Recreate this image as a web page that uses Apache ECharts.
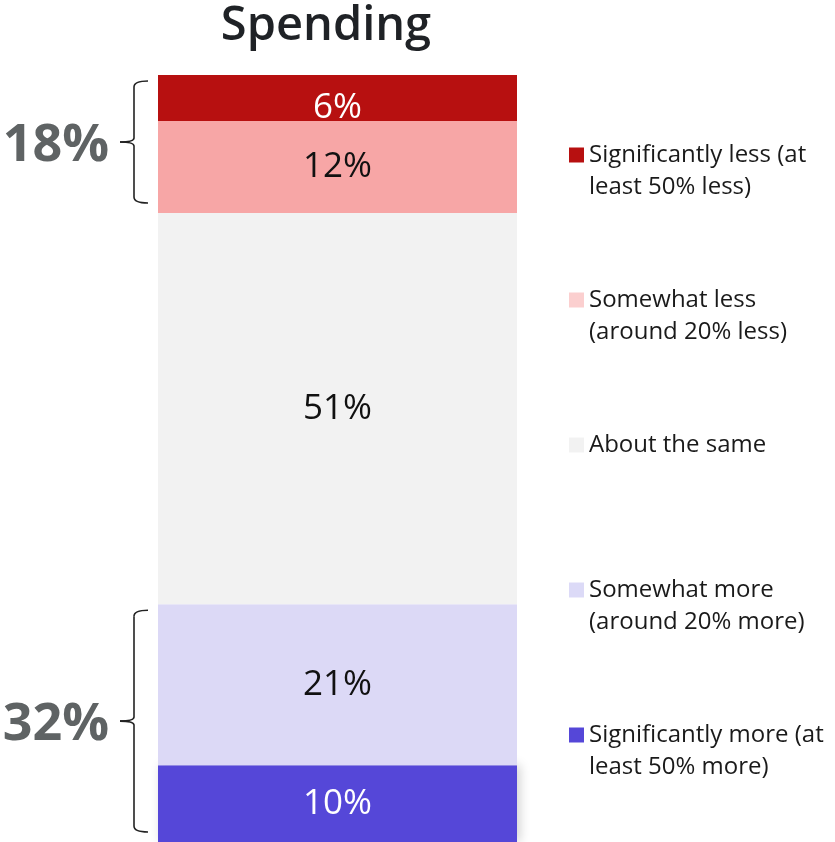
<!DOCTYPE html>
<html>
<head>
<meta charset="utf-8">
<script src="https://cdn.jsdelivr.net/npm/echarts@6/dist/echarts.min.js"></script>
<style>
  html, body { margin: 0; padding: 0; background: #fff; }
  #chart { width: 835px; height: 842px; }
</style>
</head>
<body>
<div id="chart"></div>
<script>
// Answer groups, listed from the bottom of the stack to the top
const categories = ['Spending'];
const seriesNames = [
  'Significantly more (at\nleast 50% more)',
  'Somewhat more\n(around 20% more)',
  'About the same',
  'Somewhat less\n(around 20% less)',
  'Significantly less (at\nleast 50% less)'
];
const seriesValues = [10, 21, 51, 12, 6];
const barColors = ['#5547D8', '#DCD9F6', '#F2F2F2', '#F7A6A6', '#B71010'];
const legendColors = ['#5547D8', '#DCDAF7', '#F2F2F2', '#FBCFCF', '#B71010'];
const labelColors = ['#ffffff', '#111111', '#111111', '#111111', '#ffffff'];

// Bracketed totals: [first series index, last series index, text]
const groupTotals = [
  [3, 4, '18%'],
  [0, 1, '32%']
];

const FONT = '"Open Sans", "Noto Sans", sans-serif';
const chart = echarts.init(document.getElementById('chart'), null, { renderer: 'canvas' });

const series = seriesNames.map((name, i) => ({
  name: name,
  type: 'bar',
  stack: 'total',
  barWidth: 359,
  data: [{
    value: seriesValues[i],
    label: i === 4 ? { offset: [0, 10] } : {}
  }],
  itemStyle: Object.assign(
    { color: barColors[i] },
    i === 0 ? { shadowBlur: 10, shadowColor: 'rgba(0,0,0,0.18)', shadowOffsetX: 3 } : {}
  ),
  label: {
    show: true,
    position: 'inside',
    formatter: '{c}%',
    color: labelColors[i],
    fontFamily: FONT,
    fontSize: 35,
    textBorderWidth: 0
  },
  emphasis: { disabled: true }
}));

// Legend reads top-down: reverse of the stack order
const legendOrder = [4, 3, 2, 1, 0];
const legendData = legendOrder.map(i => ({
  name: seriesNames[i],
  itemStyle: { color: legendColors[i] }
}));

chart.setOption({
  animation: false,
  title: {
    text: categories[0],
    left: 326,
    top: 3,
    padding: 0,
    textAlign: 'center',
    textStyle: { fontFamily: FONT, fontSize: 47, fontWeight: 600, color: '#1f2226' }
  },
  grid: { left: 158, right: 318, top: 75, bottom: 0, containLabel: false },
  xAxis: { type: 'category', data: categories, show: false },
  yAxis: { type: 'value', min: 0, max: 100, show: false },
  legend: {
    orient: 'vertical',
    left: 569,
    top: 107,
    padding: 0,
    itemGap: 49,
    itemWidth: 15,
    itemHeight: 15,
    icon: 'rect',
    selectedMode: false,
    data: legendData,
    // a blank leading line keeps each swatch level with the first text line
    formatter: name => '\n' + name + (name.indexOf('\n') >= 0 ? '' : '\n'),
    textStyle: { fontFamily: FONT, fontSize: 24, color: '#1a1a1a', lineHeight: 32 }
  },
  series: series
});

// Curly brackets and group totals, placed through the value axis
function yAt(v) {
  return chart.convertToPixel({ gridIndex: 0 }, [0, v])[1];
}
const cumulative = [];
seriesValues.reduce((acc, v, i) => { cumulative[i] = [acc, acc + v]; return acc + v; }, 0);

const graphics = [];
const braceStyle = { fill: null, stroke: '#222', lineWidth: 1.6 };
groupTotals.forEach(([lo, hi, text]) => {
  const yTop = yAt(cumulative[hi][1]) + 6;
  const yBot = yAt(cumulative[lo][0]) - 10;
  const mid = (yTop + yBot) / 2;
  const xl = 134, xr = 148, xt = 120, r = 6;
  graphics.push(
    { type: 'bezierCurve', shape: { x1: xr, y1: yTop, cpx1: xl, cpy1: yTop, x2: xl, y2: yTop + r }, style: braceStyle },
    { type: 'line', shape: { x1: xl, y1: yTop + r, x2: xl, y2: mid - 4 }, style: braceStyle },
    { type: 'bezierCurve', shape: { x1: xl, y1: mid - 4, cpx1: xl, cpy1: mid, x2: xt, y2: mid }, style: braceStyle },
    { type: 'bezierCurve', shape: { x1: xt, y1: mid, cpx1: xl, cpy1: mid, x2: xl, y2: mid + 4 }, style: braceStyle },
    { type: 'line', shape: { x1: xl, y1: mid + 4, x2: xl, y2: yBot - r }, style: braceStyle },
    { type: 'bezierCurve', shape: { x1: xl, y1: yBot - r, cpx1: xl, cpy1: yBot, x2: xr, y2: yBot }, style: braceStyle },
    {
      type: 'text',
      x: 109,
      y: mid + 4,
      style: {
        text: text,
        align: 'right',
        verticalAlign: 'middle',
        fontFamily: FONT,
        fontSize: 52,
        fontWeight: 'bold',
        fill: '#5f6364'
      }
    }
  );
});
chart.setOption({ graphic: graphics });
</script>
</body>
</html>
